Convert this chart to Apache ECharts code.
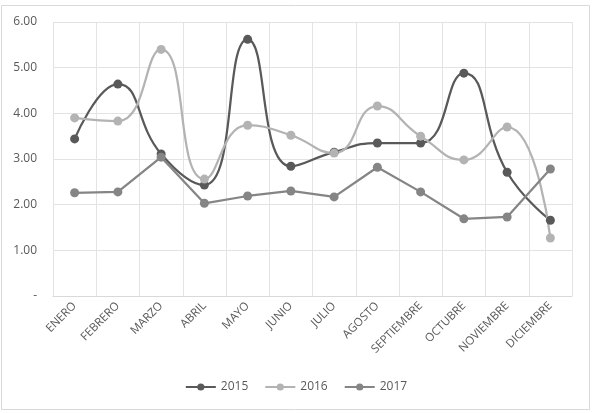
<!DOCTYPE html>
<html>
<head>
<meta charset="utf-8">
<script src="https://cdn.jsdelivr.net/npm/echarts@6/dist/echarts.min.js"></script>
<style>
  html, body { margin: 0; padding: 0; background: #fff; }
  #main { width: 592px; height: 413px; }
</style>
</head>
<body>
<div id="main"></div>
<script>
// meses
const meses = ['ENERO', 'FEBRERO', 'MARZO', 'ABRIL', 'MAYO', 'JUNIO', 'JULIO',
  'AGOSTO', 'SEPTIEMBRE', 'OCTUBRE', 'NOVIEMBRE', 'DICIEMBRE'];
const v2015 = [3.44, 4.64, 3.11, 2.43, 5.62, 2.84, 3.15, 3.35, 3.35, 4.88, 2.71, 1.66];
const v2016 = [3.90, 3.83, 5.40, 2.56, 3.74, 3.52, 3.13, 4.16, 3.50, 2.98, 3.70, 1.27];
const v2017 = [2.26, 2.28, 3.04, 2.03, 2.19, 2.30, 2.17, 2.82, 2.28, 1.69, 1.73, 2.78];

const font = 'Open Sans';
const myChart = echarts.init(document.getElementById('main'));

function serie(name, data, color, smooth) {
  return {
    name: name,
    type: 'line',
    data: data,
    smooth: smooth ? 0.5 : false,
    symbol: 'circle',
    symbolSize: 9,
    lineStyle: { color: color, width: 2.25 },
    itemStyle: { color: color },
    emphasis: { disabled: true }
  };
}

myChart.setOption({
  animation: false,
  graphic: [{
    type: 'rect',
    shape: { x: 1.5, y: 5.5, width: 588, height: 404 },
    style: { fill: 'none', stroke: '#d9d9d9', lineWidth: 1 }
  }],
  grid: { left: 53, right: 20, top: 22, bottom: 117 },
  legend: {
    bottom: 15,
    left: 'center',
    itemWidth: 30,
    itemHeight: 9,
    itemGap: 16,
    textStyle: { fontFamily: font, fontSize: 12, color: '#595959' },
    data: ['2015', '2016', '2017']
  },
  xAxis: {
    type: 'category',
    data: meses,
    boundaryGap: true,
    axisLine: { lineStyle: { color: '#d9d9d9' } },
    axisTick: { show: false },
    splitLine: { show: true, lineStyle: { color: '#e3e3e3' } },
    axisLabel: {
      interval: 0,
      rotate: 45,
      margin: 8,
      fontFamily: font,
      fontSize: 11.5,
      color: '#595959'
    }
  },
  yAxis: {
    type: 'value',
    min: 0,
    max: 6,
    interval: 1,
    axisLine: { show: false },
    axisTick: { show: false },
    splitLine: { lineStyle: { color: '#e3e3e3' } },
    axisLabel: {
      margin: 16,
      fontFamily: font,
      fontSize: 12,
      color: '#595959',
      formatter: function (v) { return v === 0 ? '-' : v.toFixed(2); }
    }
  },
  series: [
    serie('2015', v2015, '#595959', true),
    serie('2016', v2016, '#b3b3b3', true),
    serie('2017', v2017, '#858585', false)
  ]
});
</script>
</body>
</html>
